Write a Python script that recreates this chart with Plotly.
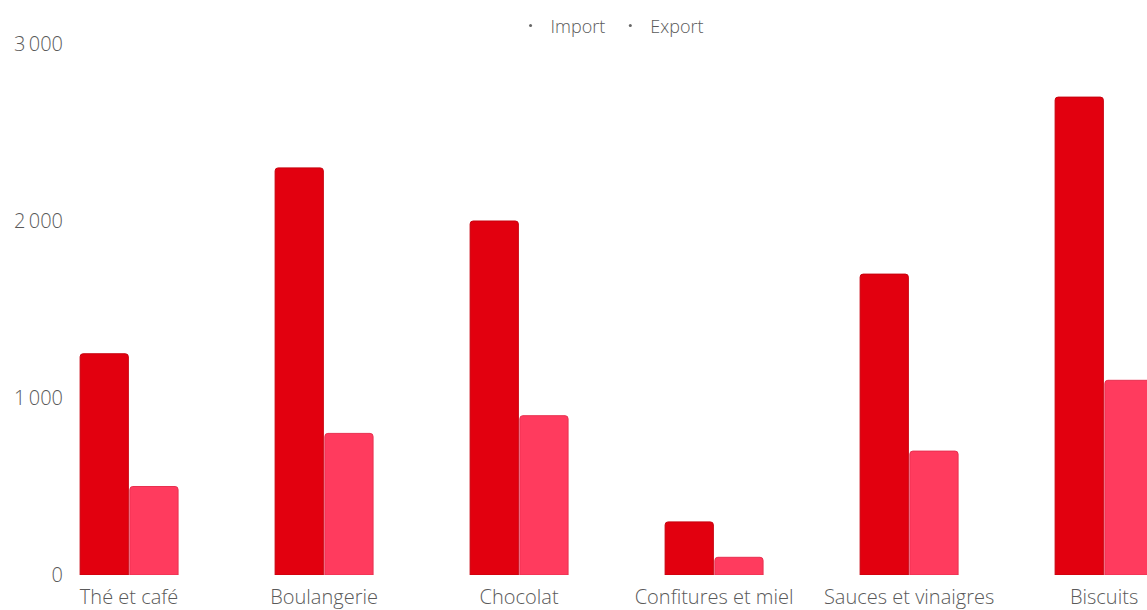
import plotly.graph_objects as go

categories = ["Thé et café", "Boulangerie", "Chocolat", "Confitures et miel", "Sauces et vinaigres", "Biscuits"]
import_vals = [1250, 2300, 2000, 300, 1700, 2700]
export_vals = [500, 800, 900, 100, 700, 1100]
y_tickvals = [0, 1000, 2000, 3000]
y_ticktext = ["0", "1\u2009000", "2\u2009000", "3\u2009000"]

IMPORT_COLOR = "#E2000F"
EXPORT_COLOR = "#FF3B5E"
TEXT_COLOR = "#5a5a5a"
FONT = "Open Sans, sans-serif"

x_idx = list(range(len(categories)))

fig = go.Figure()
fig.add_trace(go.Bar(x=x_idx, y=import_vals, name="Import", showlegend=False,
                     marker=dict(color=IMPORT_COLOR, cornerradius=3,
                                 line=dict(color="#C8000D", width=1))))
fig.add_trace(go.Bar(x=x_idx, y=export_vals, name="Export", showlegend=False,
                     marker=dict(color=EXPORT_COLOR, cornerradius=3,
                                 line=dict(color="#E8304F", width=1))))
# legend entries rendered as small grey dots, as in the reference
for nm in ["Import", "Export"]:
    fig.add_trace(go.Scatter(x=[None], y=[None], mode="markers", name=nm,
                             marker=dict(size=3, color="#666666")))

fig.update_layout(
    width=1147, height=610,
    margin=dict(l=70, r=0, t=44, b=35, autoexpand=False),
    paper_bgcolor="white", plot_bgcolor="white",
    font=dict(family=FONT, color=TEXT_COLOR, size=20, weight=300),
    barmode="group", bargap=0.49, bargroupgap=0.03,
    showlegend=True,
    legend=dict(orientation="h", x=0.501, xanchor="center", y=0.988, yanchor="top",
                yref="container", font=dict(size=18, color=TEXT_COLOR, weight=300),
                itemwidth=30, tracegroupgap=0),
    xaxis=dict(range=[-0.303, 5.22], tickvals=x_idx, ticktext=categories,
               showgrid=False, zeroline=False, showline=False, ticks="",
               ticklabelstandoff=8,
               tickfont=dict(size=20, color=TEXT_COLOR, weight=300)),
    yaxis=dict(range=[0, 3000], tickvals=y_tickvals, ticktext=y_ticktext,
               showgrid=False, zeroline=False, showline=False, ticks="",
               ticklabelstandoff=6,
               tickfont=dict(size=20, color=TEXT_COLOR, weight=300)),
)

fig.write_html("out.html")
